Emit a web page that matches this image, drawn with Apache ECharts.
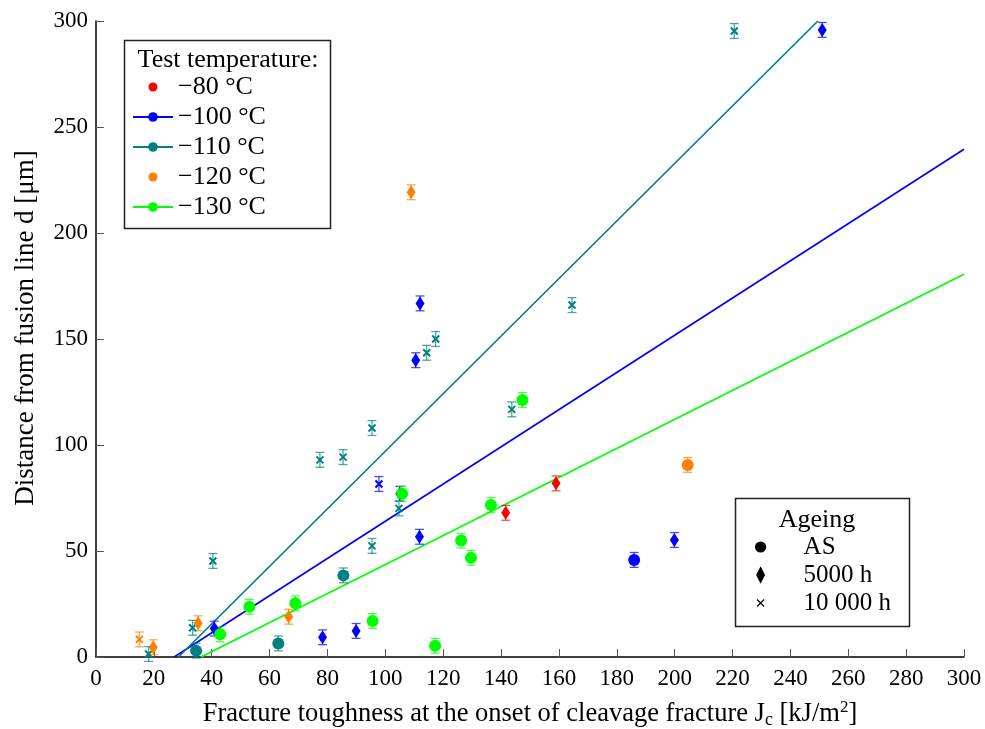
<!DOCTYPE html>
<html>
<head>
<meta charset="utf-8">
<title>Distance from fusion line vs. fracture toughness</title>
<script src="https://cdn.jsdelivr.net/npm/echarts@6/dist/echarts.min.js"></script>
<style>
    html, body { margin: 0; padding: 0; background: #fff; }
    #chart { width: 985px; height: 729px; }
</style>
</head>
<body>
<div id="chart"></div>
<script>
// x: J_c [kJ/m2], y: d [um]
const temps = ["−80 °C", "−100 °C", "−110 °C", "−120 °C", "−130 °C"];
const tempColors = ["#ff0000", "#0000ff", "#008080", "#ff8000", "#00ff00"];
const ageings = ["AS", "5000 h", "10 000 h"];

// -80 °C
const t80_AS = [];
const t80_5000 = [[141.6, 68], [159, 81.9]];
const t80_10000 = [];
// -100 °C
const t100_AS = [[186, 45.8]];
const t100_5000 = [[251, 295.8], [112, 166.8], [110.5, 140], [105, 77], [111.8, 56.7],
    [199.9, 55.2], [40.9, 13.4], [78.3, 9.3], [89.9, 12.3]];
const t100_10000 = [[97.8, 81.6]];
// -110 °C
const t110_AS = [[85.5, 38.5], [63, 6.4], [34.6, 3]];
const t110_5000 = [];
const t110_10000 = [[220.6, 295.3], [164.5, 166], [117.4, 150], [114.3, 143.5], [143.7, 116.8],
    [95.4, 108], [77.4, 93], [85.4, 94.3], [104.7, 70.1], [95.4, 52.4], [40.4, 45.3],
    [33.4, 13.8], [18.2, 1.4]];
// -120 °C
const t120_AS = [[204.5, 90.6]];
const t120_5000 = [[108.9, 219.2], [66.6, 19], [35.3, 15.9], [19.8, 4.6]];
const t120_10000 = [[15, 8.3]];
// -130 °C
const t130_AS = [[147.4, 121.2], [136.5, 71.7], [105.8, 77], [126.2, 54.9], [129.6, 46.8],
    [53, 23.7], [68.9, 25.3], [42.9, 10.7], [95.6, 17], [117.2, 5.3]];
const t130_5000 = [];
const t130_10000 = [];

const errY = 3.5;

// fitted lines, end points
const fit100 = [[27, 0], [300, 239.5]];
const fit110 = [[28.5, 0], [249.5, 300]];
const fit130 = [[36.3, 0], [300, 180.5]];

const xTicks = { min: 0, max: 300, interval: 20 };
const yTicks = { min: 0, max: 300, interval: 50 };

const pointSets = [
    [t80_AS, t80_5000, t80_10000],
    [t100_AS, t100_5000, t100_10000],
    [t110_AS, t110_5000, t110_10000],
    [t120_AS, t120_5000, t120_10000],
    [t130_AS, t130_5000, t130_10000],
];
const fits = [[1, fit100], [2, fit110], [4, fit130]];

const FONT = "Liberation Serif";
const crossPath = "path://M0,0L10,10M10,0L0,10";
// legend icons padded so every icon sits in the same box
const dotIcon = "path://M0,0M40,12M24.5,6A4.5,4.5 0 1 1 15.5,6A4.5,4.5 0 1 1 24.5,6Z";
const ageIcons = [
    "path://M0,0M20,16M15,8A5,5 0 1 1 5,8A5,5 0 1 1 15,8Z",
    "path://M0,0M20,16M10,0.5L13.8,8L10,15.5L6.2,8Z",
    "path://M0,0M20,16M6.5,4.5L13.5,11.5M13.5,4.5L6.5,11.5",
];

const chart = echarts.init(document.getElementById("chart"));

const series = [];
// lines first so the legend picks the line icon
fits.forEach(function (f) {
    series.push({
        name: temps[f[0]],
        type: "line",
        data: f[1],
        symbol: "none",
        z: 1,
        color: tempColors[f[0]],
        lineStyle: { width: 1.7, color: tempColors[f[0]] },
    });
});
pointSets.forEach(function (sets, i) {
    const color = tempColors[i];
    sets.forEach(function (pts, k) {
        if (!pts.length) return;
        const s = {
            name: temps[i],
            type: "scatter",
            data: pts,
            z: 3,
            itemStyle: { color: color, opacity: 1 },
        };
        if (k === 0) {
            s.symbol = "circle";
            s.symbolSize = 12;
        } else if (k === 1) {
            s.symbol = "diamond";
            s.symbolSize = [9, 14];
        } else {
            s.symbol = crossPath;
            s.symbolSize = 7;
            s.itemStyle = { color: color, borderColor: color, borderWidth: 2, opacity: 1 };
        }
        series.push(s);
    });
});
pointSets.forEach(function (sets, i) {
    const color = tempColors[i];
    const all = [].concat(sets[0], sets[1], sets[2]);
    series.push({
        name: temps[i],
        type: "custom",
        z: 2,
        data: all,
        itemStyle: { color: color },
        renderItem: function (params, api) {
            const x = api.value(0);
            const y = api.value(1);
            const hi = api.coord([x, y + errY]);
            const lo = api.coord([x, y - errY]);
            const w = 4.5;
            const st = function () {
                return { stroke: color, lineWidth: 1.3, opacity: 0.7 };
            };
            return {
                type: "group",
                children: [
                    { type: "line", shape: { x1: hi[0], y1: hi[1], x2: lo[0], y2: lo[1] }, style: st() },
                    { type: "line", shape: { x1: hi[0] - w, y1: hi[1], x2: hi[0] + w, y2: hi[1] }, style: st() },
                    { type: "line", shape: { x1: lo[0] - w, y1: lo[1], x2: lo[0] + w, y2: lo[1] }, style: st() },
                ],
            };
        },
    });
});
// empty series, only for the ageing legend
ageings.forEach(function (a) {
    series.push({ name: a, type: "scatter", data: [], itemStyle: { color: "#000", opacity: 1 } });
});

const axisText = { color: "#000", fontFamily: FONT, fontSize: 23 };

const option = {
    animation: false,
    grid: { left: 96, right: 21, top: 21, bottom: 72, outerBoundsMode: "none" },
    xAxis: {
        type: "value",
        min: xTicks.min,
        max: xTicks.max,
        interval: xTicks.interval,
        name: "Fracture toughness at the onset of cleavage fracture J{sub|c} [kJ/m{sup|2}]",
        nameLocation: "middle",
        nameGap: 42,
        nameTextStyle: {
            color: "#000",
            fontFamily: FONT,
            fontSize: 26.5,
            lineHeight: 30,
            rich: {
                sub: { fontFamily: FONT, fontSize: 18, verticalAlign: "bottom", lineHeight: 22 },
                sup: { fontFamily: FONT, fontSize: 17, verticalAlign: "top", lineHeight: 24 },
            },
        },
        axisLine: { lineStyle: { color: "#000", width: 1.5 } },
        axisTick: { inside: true, length: 8, lineStyle: { color: "#555", width: 1 } },
        axisLabel: Object.assign({ margin: 10 }, axisText),
        splitLine: { show: false },
    },
    yAxis: {
        type: "value",
        min: yTicks.min,
        max: yTicks.max,
        interval: yTicks.interval,
        name: "Distance from fusion line d [μm]",
        nameLocation: "middle",
        nameGap: 57,
        nameTextStyle: { color: "#000", fontFamily: FONT, fontSize: 27, padding: [0, 0, 0, 22] },
        axisLine: { show: true, lineStyle: { color: "#000", width: 1.5 } },
        axisTick: { show: true, inside: true, length: 8, lineStyle: { color: "#555", width: 1 } },
        axisLabel: Object.assign({ margin: 8 }, axisText),
        splitLine: { show: false },
    },
    legend: [
        {
            orient: "vertical",
            left: 132,
            top: 72,
            padding: 0,
            itemGap: 0,
            itemWidth: 40,
            itemHeight: 12,
            selectedMode: false,
            itemStyle: { opacity: 1 },
            textStyle: { color: "#000", fontFamily: FONT, fontSize: 26, lineHeight: 30 },
            data: [
                { name: temps[0], icon: dotIcon },
                { name: temps[1] },
                { name: temps[2] },
                { name: temps[3], icon: dotIcon },
                { name: temps[4] },
            ],
        },
        {
            orient: "vertical",
            left: 750,
            top: 533,
            padding: 0,
            itemGap: 0,
            itemWidth: 20,
            itemHeight: 16,
            selectedMode: false,
            itemStyle: { color: "#000", borderColor: "#000", borderWidth: 1.2, opacity: 1 },
            textStyle: { color: "#000", fontFamily: FONT, fontSize: 25, lineHeight: 28, padding: [0, 0, 0, 28] },
            data: ageings.map(function (a, k) {
                return { name: a, icon: ageIcons[k] };
            }),
        },
    ],
    graphic: [
        {
            type: "rect",
            shape: { x: 124.5, y: 40.5, width: 206, height: 188 },
            style: { fill: "none", stroke: "#222", lineWidth: 1.5 },
        },
        {
            type: "text",
            x: 228,
            y: 60,
            style: {
                text: "Test temperature:",
                fontFamily: FONT,
                fontSize: 26,
                fill: "#000",
                align: "center",
                verticalAlign: "middle",
                textAlign: "center",
                textVerticalAlign: "middle",
            },
        },
        {
            type: "rect",
            shape: { x: 735.5, y: 498.5, width: 174, height: 128 },
            style: { fill: "none", stroke: "#222", lineWidth: 1.5 },
        },
        {
            type: "text",
            x: 817,
            y: 520,
            style: {
                text: "Ageing",
                fontFamily: FONT,
                fontSize: 26,
                fill: "#000",
                align: "center",
                verticalAlign: "middle",
                textAlign: "center",
                textVerticalAlign: "middle",
            },
        },
    ],
    series: series,
};

chart.setOption(option);
window.addEventListener("resize", function () {
    chart.resize();
});
</script>
</body>
</html>
